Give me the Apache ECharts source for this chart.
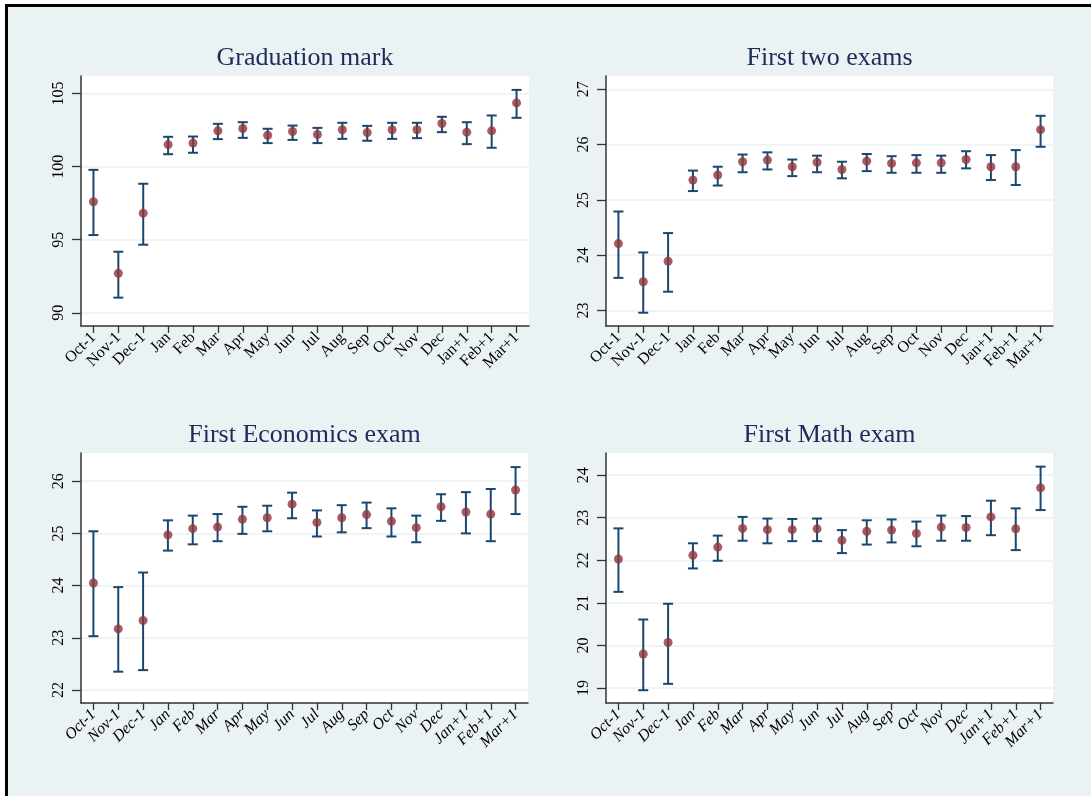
<!DOCTYPE html>
<html>
<head>
<meta charset="utf-8">
<script src="https://cdn.jsdelivr.net/npm/echarts@6/dist/echarts.min.js"></script>
<style>
html,body{margin:0;padding:0;background:#fff;}
#chart{width:1091px;height:796px;}
</style>
</head>
<body>
<div id="chart"></div>
<script>
const categories = ['Oct-1','Nov-1','Dec-1','Jan','Feb','Mar','Apr','May','Jun','Jul','Aug','Sep','Oct','Nov','Dec','Jan+1','Feb+1','Mar+1'];

const panelTitles = ['Graduation mark','First two exams','First Economics exam','First Math exam'];

const gradMean = [97.60,92.70,96.82,101.51,101.61,102.45,102.61,102.15,102.40,102.20,102.52,102.33,102.52,102.52,102.95,102.36,102.45,104.36];
const gradHigh = [99.78,94.18,98.83,102.04,102.06,102.93,103.04,102.59,102.81,102.65,103.00,102.79,103.00,103.00,103.41,103.04,103.50,105.25];
const gradLow  = [95.32,91.04,94.66,100.85,100.95,101.88,101.97,101.61,101.83,101.61,101.90,101.77,101.90,101.95,102.36,101.54,101.29,103.34];

const twoMean = [24.21,23.52,23.89,25.36,25.45,25.69,25.72,25.60,25.68,25.55,25.70,25.66,25.67,25.67,25.73,25.60,25.60,26.27];
const twoHigh = [24.79,24.05,24.40,25.53,25.60,25.82,25.86,25.73,25.80,25.69,25.83,25.79,25.81,25.80,25.88,25.81,25.90,26.52];
const twoLow  = [23.59,22.96,23.34,25.16,25.26,25.50,25.55,25.43,25.50,25.39,25.52,25.49,25.49,25.49,25.57,25.36,25.27,25.96];

const ecoMean = [24.05,23.17,23.33,24.97,25.09,25.12,25.27,25.30,25.56,25.21,25.30,25.36,25.23,25.11,25.51,25.41,25.37,25.83];
const ecoHigh = [25.04,23.97,24.25,25.25,25.34,25.37,25.51,25.53,25.78,25.44,25.54,25.59,25.48,25.34,25.75,25.79,25.85,26.27];
const ecoLow  = [23.03,22.35,22.38,24.67,24.79,24.85,24.99,25.04,25.29,24.94,25.02,25.10,24.94,24.83,25.24,25.00,24.85,25.37];

const mathMean = [22.03,19.80,20.07,22.12,22.31,22.75,22.72,22.72,22.74,22.47,22.68,22.71,22.63,22.78,22.77,23.02,22.74,23.70];
const mathHigh = [22.75,20.61,20.98,22.40,22.58,23.02,22.98,22.97,22.98,22.71,22.94,22.96,22.91,23.05,23.04,23.40,23.22,24.20];
const mathLow  = [21.26,18.95,19.10,21.81,21.99,22.46,22.40,22.45,22.45,22.17,22.37,22.42,22.33,22.46,22.46,22.59,22.24,23.18];

const gradTicks = [90,95,100,105];
const twoTicks = [23,24,25,26,27];
const ecoTicks = [22,23,24,25,26];
const mathTicks = [19,20,21,22,23,24];

const panels = [
  {title: panelTitles[0], mean: gradMean, lo: gradLow, hi: gradHigh, ticks: gradTicks, min: 89.1, max: 106.2,
   grid: {left: 81, top: 76, width: 448, height: 250}, tx: 305, ty: 58, italic: false},
  {title: panelTitles[1], mean: twoMean, lo: twoLow, hi: twoHigh, ticks: twoTicks, min: 22.72, max: 27.24,
   grid: {left: 606, top: 76, width: 447, height: 250}, tx: 829.5, ty: 58, italic: false},
  {title: panelTitles[2], mean: ecoMean, lo: ecoLow, hi: ecoHigh, ticks: ecoTicks, min: 21.75, max: 26.54,
   grid: {left: 81, top: 453, width: 447, height: 250}, tx: 304.5, ty: 435, italic: true},
  {title: panelTitles[3], mean: mathMean, lo: mathLow, hi: mathHigh, ticks: mathTicks, min: 18.65, max: 24.52,
   grid: {left: 606, top: 453, width: 447, height: 250}, tx: 829.5, ty: 435, italic: true}
];

const FONT = '"Liberation Serif", "DejaVu Serif", serif';
const NAVY = '#1a476f';
const MAROON = '#90353b';
const AXIS = '#333333';
const GRIDC = '#eaf2f3';

const grids = [], xAxes = [], yAxes = [], series = [], graphics = [];

graphics.push({
  type: 'rect', z: -10, silent: true,
  shape: {x: 6.5, y: 5.5, width: 1200, height: 900},
  style: {fill: '#eaf2f3', stroke: '#000', lineWidth: 3}
});

panels.forEach((p, i) => {
  grids.push(Object.assign({show: true, backgroundColor: '#ffffff', borderWidth: 0, containLabel: false}, p.grid));
  xAxes.push({
    type: 'category', gridIndex: i, data: categories, boundaryGap: true,
    axisLine: {show: true, onZero: false, lineStyle: {color: AXIS, width: 1.5}},
    axisTick: {show: true, alignWithLabel: true, length: 7, lineStyle: {color: AXIS, width: 1.3}},
    axisLabel: {interval: 0, rotate: 45, fontFamily: FONT, fontSize: 16, fontStyle: p.italic ? 'italic' : 'normal', color: '#000', margin: 9},
    splitLine: {show: false}
  });
  yAxes.push({
    type: 'value', gridIndex: i, min: p.min, max: p.max, scale: true,
    axisLine: {show: true, lineStyle: {color: AXIS, width: 1.5}},
    axisTick: {show: true, length: 9, customValues: p.ticks, lineStyle: {color: AXIS, width: 1.3}},
    axisLabel: {customValues: p.ticks, rotate: 90, fontFamily: FONT, fontSize: 16, color: '#000', margin: 14},
    splitLine: {show: true, lineStyle: {color: GRIDC, width: 1.5}}
  });
  const barData = p.mean.map((m, k) => [k, p.lo[k], p.hi[k]]);
  series.push({
    type: 'custom', xAxisIndex: i, yAxisIndex: i, z: 2, silent: true,
    data: barData,
    renderItem: function (params, api) {
      const x = api.value(0);
      const pHi = api.coord([x, api.value(2)]);
      const pLo = api.coord([x, api.value(1)]);
      const hw = 5;
      const st = {stroke: NAVY, lineWidth: 2, fill: null};
      return {
        type: 'group',
        children: [
          {type: 'line', shape: {x1: pHi[0], y1: pHi[1], x2: pLo[0], y2: pLo[1]}, style: st},
          {type: 'line', shape: {x1: pHi[0] - hw, y1: pHi[1], x2: pHi[0] + hw, y2: pHi[1]}, style: st},
          {type: 'line', shape: {x1: pLo[0] - hw, y1: pLo[1], x2: pLo[0] + hw, y2: pLo[1]}, style: st}
        ]
      };
    }
  });
  series.push({
    type: 'scatter', xAxisIndex: i, yAxisIndex: i, z: 3, silent: true,
    symbol: 'circle', symbolSize: 9,
    itemStyle: {color: MAROON},
    data: p.mean.map((m, k) => [k, m])
  });
  graphics.push({
    type: 'text', x: p.tx, y: p.ty, silent: true,
    style: {text: p.title, fill: '#1c2b5a', font: '26px ' + FONT, textAlign: 'center', textVerticalAlign: 'middle'}
  });
});

const chart = echarts.init(document.getElementById('chart'), null, {renderer: 'canvas'});
chart.setOption({
  animation: false,
  backgroundColor: 'transparent',
  grid: grids,
  xAxis: xAxes,
  yAxis: yAxes,
  series: series,
  graphic: graphics
});
</script>
</body>
</html>
